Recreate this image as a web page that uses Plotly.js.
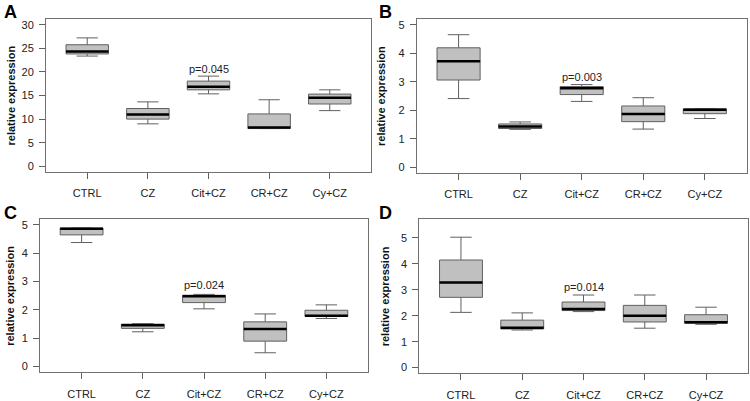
<!DOCTYPE html>
<html>
<head>
<meta charset="utf-8">
<script src="https://cdn.plot.ly/plotly-3.0.1.min.js"></script>
<style>
  html, body { margin: 0; padding: 0; background: #fff; }
  #chart { width: 750px; height: 401px; }
</style>
</head>
<body>
<div id="chart"></div>
<script>
// groups on the x axis
const groups = ["CTRL", "CZ", "Cit+CZ", "CR+CZ", "Cy+CZ"];
const positions = [1, 2, 3, 4, 5];

// box statistics, one array per statistic and panel
const lowA = [23.35, 9.0, 15.35, 8.0, 11.8];
const q1A = [23.8, 10.0, 16.2, 8.0, 13.2];
const medA = [24.3, 10.95, 16.85, 8.2, 14.5];
const q3A = [25.75, 12.25, 18.05, 11.1, 15.3];
const highA = [27.2, 13.65, 19.1, 14.1, 16.2];

const lowB = [2.41, 1.33, 2.31, 1.34, 1.71];
const q1B = [3.06, 1.36, 2.55, 1.6, 1.88];
const medB = [3.72, 1.43, 2.77, 1.87, 2.02];
const q3B = [4.19, 1.52, 2.83, 2.15, 2.05];
const highB = [4.65, 1.59, 2.9, 2.44, 2.05];

const lowC = [4.38, 1.23, 2.04, 0.49, 1.7];
const q1C = [4.65, 1.35, 2.26, 0.9, 1.77];
const medC = [4.87, 1.46, 2.48, 1.33, 1.8];
const q3C = [4.89, 1.5, 2.52, 1.58, 1.99];
const highC = [4.89, 1.52, 2.55, 1.86, 2.18];

const lowD = [2.13, 1.45, 2.16, 1.52, 1.67];
const q1D = [2.71, 1.49, 2.2, 1.76, 1.71];
const medD = [3.28, 1.54, 2.26, 2.0, 1.75];
const q3D = [4.15, 1.83, 2.53, 2.4, 2.04];
const highD = [5.03, 2.11, 2.8, 2.8, 2.33];

// p-values shown above Cit+CZ
const pLabels = ["p=0.045", "p=0.003", "p=0.024", "p=0.014"];
const pHeights = [20.7, 3.17, 2.87, 3.12];

const panelNames = ["A", "B", "C", "D"];
const yTicks = [[0, 5, 10, 15, 20, 25, 30], [0, 1, 2, 3, 4, 5], [0, 1, 2, 3, 4, 5], [0, 1, 2, 3, 4, 5]];
const yRanges = [[-1.2, 31.2], [-0.2, 5.2], [-0.2, 5.2], [-0.22, 5.72]];

const stats = [
  [lowA, q1A, medA, q3A, highA],
  [lowB, q1B, medB, q3B, highB],
  [lowC, q1C, medC, q3C, highC],
  [lowD, q1D, medD, q3D, highD]
];

// plot frames in pixels: [left, right, top, bottom]
const W = 750, H = 401;
const frames = [
  [46, 371, 19, 172],
  [416.7, 746.7, 19, 173],
  [40, 368, 219.3, 372.3],
  [419.3, 747.7, 219.3, 373.3]
];
const letterPos = [[2, 12], [377, 12], [2, 213], [377, 213]];
const titleX = [10, 381, 10, 385];

const boxW = 0.7;
const font = "Liberation Sans, Arial, sans-serif";

const data = [];
const layout = {
  width: W,
  height: H,
  margin: { l: 0, r: 0, t: 0, b: 0 },
  paper_bgcolor: "#fff",
  plot_bgcolor: "#fff",
  showlegend: false,
  hovermode: false,
  font: { family: font, size: 11, color: "#222" },
  annotations: []
};

stats.forEach((s, i) => {
  const n = i === 0 ? "" : String(i + 1);
  const [low, q1, med, q3, high] = s;

  data.push({
    type: "box",
    orientation: "v",
    x: positions,
    lowerfence: low,
    q1: q1,
    median: med,
    q3: q3,
    upperfence: high,
    width: boxW,
    whiskerwidth: 0.5,
    boxpoints: false,
    fillcolor: "#c0c0c0",
    line: { color: "#606060", width: 1 },
    xaxis: "x" + n,
    yaxis: "y" + n
  });

  // thick black median bars
  const mx = [], my = [];
  positions.forEach((p, k) => {
    mx.push(p - boxW / 2, p + boxW / 2, null);
    my.push(med[k], med[k], null);
  });
  data.push({
    type: "scatter",
    mode: "lines",
    x: mx,
    y: my,
    line: { color: "#000", width: 2.5 },
    xaxis: "x" + n,
    yaxis: "y" + n
  });

  const f = frames[i];
  layout["xaxis" + n] = {
    domain: [f[0] / W, f[1] / W],
    anchor: "y" + n,
    range: [0.32, 5.68],
    tickvals: positions,
    ticktext: groups,
    ticks: "outside",
    ticklen: 6,
    tickcolor: "#606060",
    ticklabelstandoff: 5,
    showline: true,
    mirror: true,
    linecolor: "#707070",
    linewidth: 1,
    showgrid: false,
    zeroline: false,
    tickfont: { family: font, size: 11, color: "#222" }
  };
  layout["yaxis" + n] = {
    domain: [1 - f[3] / H, 1 - f[2] / H],
    anchor: "x" + n,
    range: yRanges[i],
    tickvals: yTicks[i],
    ticks: "outside",
    ticklen: 6,
    tickcolor: "#606060",
    ticklabelstandoff: 3,
    showline: true,
    mirror: true,
    linecolor: "#707070",
    linewidth: 1,
    showgrid: false,
    zeroline: false,
    tickfont: { family: font, size: 11, color: "#222" }
  };

  layout.annotations.push({
    text: panelNames[i],
    xref: "paper", yref: "paper",
    x: letterPos[i][0] / W, y: 1 - letterPos[i][1] / H,
    xanchor: "left", yanchor: "middle",
    showarrow: false,
    font: { family: font, size: 18, color: "#000", weight: "bold" }
  });
  layout.annotations.push({
    text: "<b>relative expression</b>",
    xref: "paper", yref: "paper",
    x: titleX[i] / W, y: 1 - (f[2] + f[3]) / 2 / H,
    xanchor: "center", yanchor: "middle",
    textangle: -90,
    showarrow: false,
    font: { family: font, size: 11, color: "#111" }
  });
  layout.annotations.push({
    text: pLabels[i],
    xref: "x" + n, yref: "y" + n,
    x: 3, y: pHeights[i],
    xanchor: "center", yanchor: "middle",
    showarrow: false,
    font: { family: font, size: 11, color: "#222" }
  });
});

Plotly.newPlot("chart", data, layout, { displayModeBar: false, staticPlot: true });
</script>
</body>
</html>
